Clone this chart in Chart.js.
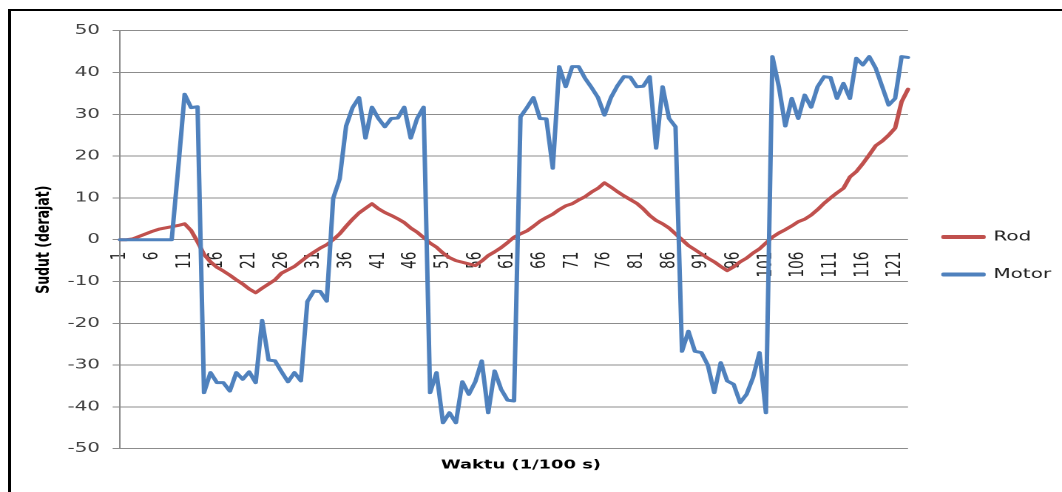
<!DOCTYPE html>
<html>
<head>
<meta charset="utf-8">
<script src="https://cdn.jsdelivr.net/npm/chart.js@4.4.1/dist/chart.umd.min.js"></script>
<style>
  html, body { margin: 0; padding: 0; background: #fff; width: 1062px; height: 492px; overflow: hidden; }
  #frame { position: absolute; left: 8px; top: 9px; width: 1120px; height: 540px; box-sizing: border-box;
           border-left: 3px solid #000; border-top: 2px solid #000; }
  #chart { position: absolute; left: 0; top: 0; transform-origin: 0 0; transform: scaleX(1.47911); }
</style>
</head>
<body>
<div id="frame"></div>
<canvas id="chart" width="718" height="492"></canvas>
<script>
// sample index (1/100 s steps)
const categories = [1,2,3,4,5,6,7,8,9,10,11,12,13,14,15,16,17,18,19,20,21,22,23,24,25,26,27,28,29,30,
  31,32,33,34,35,36,37,38,39,40,41,42,43,44,45,46,47,48,49,50,51,52,53,54,55,56,57,58,59,60,
  61,62,63,64,65,66,67,68,69,70,71,72,73,74,75,76,77,78,79,80,81,82,83,84,85,86,87,88,89,90,
  91,92,93,94,95,96,97,98,99,100,101,102,103,104,105,106,107,108,109,110,111,112,113,114,115,116,117,118,119,120,
  121,122,123];

// labels printed on the time axis
const xTickLabels = [1,6,11,16,21,26,31,36,41,46,51,56,61,66,71,76,81,86,91,96,101,106,111,116,121];

// rod angle (degrees)
const rod = [0,0,0.2,0.8,1.4,2.0,2.5,2.8,3.1,3.4,
  3.8,2.2,-0.5,-3.5,-5.3,-6.6,-7.5,-8.5,-9.6,-10.6,
  -11.8,-12.7,-11.6,-10.6,-9.6,-8.0,-7.2,-6.4,-5.2,-4.0,
  -3.0,-2.0,-1.2,0,1.4,3.2,4.9,6.4,7.5,8.6,
  7.4,6.5,5.8,5.0,4.1,2.8,1.8,0.5,-0.8,-1.8,
  -3.2,-4.3,-5.0,-5.4,-5.8,-6.2,-5.1,-3.8,-2.9,-1.9,
  -0.7,0.6,1.4,2.1,3.2,4.4,5.3,6.1,7.2,8.1,
  8.6,9.5,10.3,11.4,12.3,13.6,12.6,11.5,10.5,9.6,
  8.7,7.4,5.8,4.6,3.8,2.8,1.4,0,-1.4,-2.4,
  -3.4,-4.4,-5.3,-6.4,-7.4,-6.5,-5.3,-4.4,-3.2,-2.2,
  -0.8,0.6,1.6,2.4,3.3,4.3,4.9,5.9,7.2,8.7,
  10.0,11.2,12.3,15.0,16.3,18.2,20.3,22.5,23.6,25.0,
  26.7,33.0,36.0];

// motor angle (degrees)
const motor = [0,0,0,0,0,0,0,0,0,17,
  34.8,31.6,31.8,-36.6,-31.8,-34.2,-34.2,-36.2,-31.8,-33.4,
  -31.6,-34.2,-19.3,-28.8,-29.0,-31.6,-34.0,-31.8,-33.8,-14.8,
  -12.3,-12.4,-14.7,9.9,14.5,27.2,31.6,34.0,24.3,31.7,
  29.0,27.0,29.0,29.1,31.7,24.3,29.0,31.7,-36.6,-31.8,
  -43.8,-41.4,-43.8,-34.0,-37.0,-34.0,-29.0,-41.4,-31.4,-35.8,
  -38.4,-38.6,29.4,31.6,34.0,29.0,28.9,17.1,41.4,36.6,
  41.4,41.4,38.6,36.4,34.0,29.8,34.0,36.8,39.0,38.9,
  36.6,36.7,39.0,21.9,36.6,29.0,27.0,-26.7,-21.9,-26.7,
  -27.0,-30.0,-36.6,-29.4,-33.8,-34.6,-39.0,-37.0,-33.0,-27.0,
  -41.4,43.8,36.6,27.2,33.8,29.0,34.6,31.7,36.6,39.0,
  38.8,33.8,37.4,33.8,43.4,41.8,43.8,41.0,36.6,32.2,
  33.8,43.8,43.6];

const FONT = 'DejaVu Sans';
const GRID = '#8c8c8c';

const chart = new Chart(document.getElementById('chart'), {
  type: 'line',
  data: {
    labels: categories,
    datasets: [
      { label: 'Rod', data: rod, order: 1,
        borderColor: '#C0504D', backgroundColor: '#C0504D', borderWidth: 3 },
      { label: 'Motor', data: motor, order: 0,
        borderColor: '#4F81BD', backgroundColor: '#4F81BD', borderWidth: 3 }
    ]
  },
  options: {
    responsive: false,
    devicePixelRatio: 2,
    animation: false,
    events: [],
    layout: { padding: { left: -6.6, top: 30.7, right: 7, bottom: 11.2 } },
    elements: {
      point: { radius: 0 },
      line: { tension: 0, borderJoinStyle: 'round', borderCapStyle: 'round' }
    },
    scales: {
      x: {
        type: 'category',
        position: { y: 0 },
        offset: false,
        grid: { display: false },
        border: { display: false },
        ticks: {
          autoSkip: false, minRotation: 90, maxRotation: 90, padding: 4,
          color: '#222', font: { family: FONT, size: 13.5 },
          callback: function (v, i) {
            const c = categories[i];
            return xTickLabels.includes(c) ? String(c) : '';
          }
        }
      },
      y: {
        min: -50, max: 50,
        ticks: { stepSize: 10, padding: 8.5, color: '#404040', font: { family: FONT, size: 13.5 },
                 callback: v => String(v) },
        grid: { color: GRID, tickLength: 5, tickColor: GRID },
        border: { color: GRID },
        title: {
          display: true, text: 'Sudut (derajat)', color: '#000',
          font: { family: FONT, size: 12.5, weight: 'bold' },
          padding: { top: 28.7, bottom: 0 }
        }
      }
    },
    plugins: {
      legend: {
        position: 'right',
        maxWidth: 97.1,
        labels: {
          boxWidth: 27, boxHeight: 1, padding: 24, color: '#222',
          font: { family: FONT, size: 13.5 },
          sort: (a, b) => a.datasetIndex - b.datasetIndex
        }
      },
      title: {
        display: true, position: 'bottom', text: 'Waktu (1/100 s)', color: '#000',
        font: { family: FONT, size: 12.1, weight: 'bold' },
        padding: { top: 9.6, bottom: 8.0 }
      },
      tooltip: { enabled: false }
    }
  }
});
</script>
</body>
</html>
